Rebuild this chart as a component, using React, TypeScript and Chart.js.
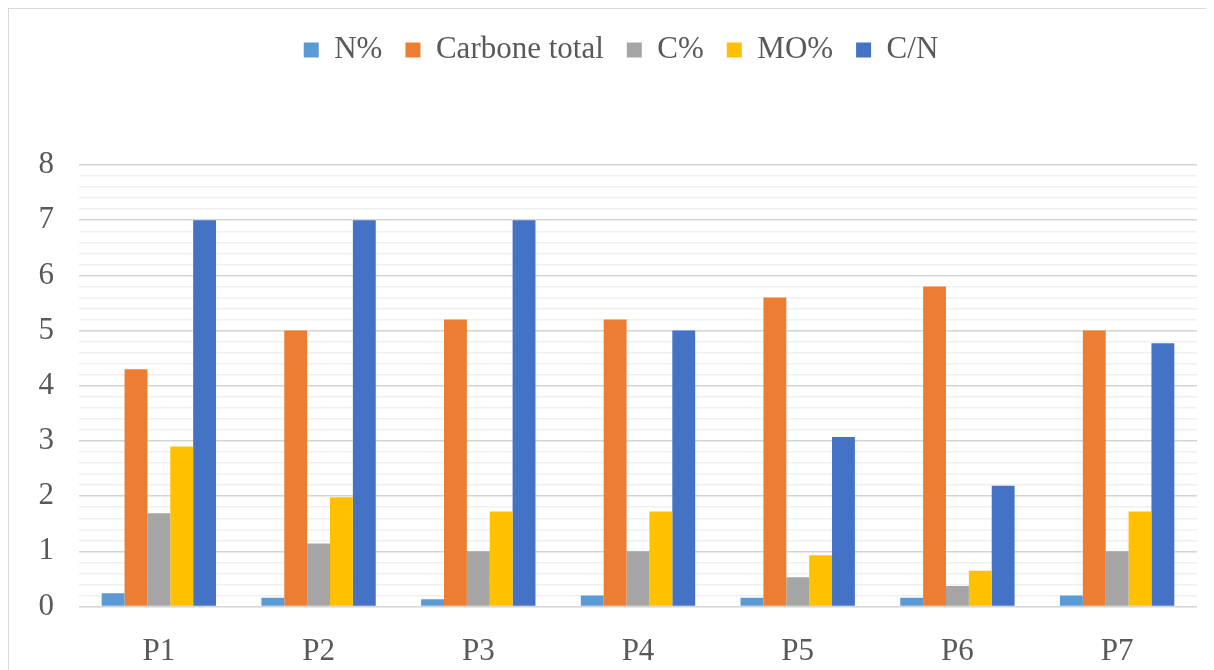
import React, { useEffect, useRef } from "react";
import { Chart, registerables } from "chart.js";

Chart.register(...registerables);

const categories = ["P1", "P2", "P3", "P4", "P5", "P6", "P7"];
const seriesNames = ["N%", "Carbone total", "C%", "MO%", "C/N"];
const nPct = [0.24, 0.16, 0.13, 0.2, 0.16, 0.16, 0.2];
const carboneTotal = [4.3, 5.0, 5.2, 5.2, 5.6, 5.8, 5.0];
const cPct = [1.69, 1.14, 1.0, 1.0, 0.53, 0.37, 1.0];
const moPct = [2.9, 1.98, 1.72, 1.72, 0.93, 0.65, 1.72];
const cN = [7.0, 7.0, 7.0, 5.0, 3.07, 2.19, 4.77];
const seriesColors = ["#5B9BD5", "#ED7D31", "#A5A5A5", "#FFC000", "#4472C4"];
const yMin = 0;
const yMax = 8;
const yStep = 0.2;

const FONT = "'Liberation Serif', 'Times New Roman', serif";
const TEXT = "#595959";

const isMajor = (v: number) => Math.abs(v - Math.round(v)) < 1e-6;

export default function App() {
  const ref = useRef<HTMLCanvasElement | null>(null);

  useEffect(() => {
    document.documentElement.style.overflow = "hidden";
    document.body.style.overflow = "hidden";
    const canvas = ref.current;
    if (!canvas) return;
    const values = [nPct, carboneTotal, cPct, moPct, cN];
    const legendTweak = {
      id: "legendTweak",
      beforeInit(chart: any) {
        const legend = chart.legend;
        if (!legend) return;
        const origFit = legend.fit;
        legend.fit = function () {
          origFit.call(this);
          this.height = 153.5;
        };
        const origDraw = legend.draw;
        legend.draw = function () {
          const ctx = this.ctx;
          ctx.save();
          ctx.translate(18, 0);
          origDraw.call(this);
          ctx.restore();
        };
      },
    };
    const chart = new Chart(canvas, {
      type: "bar",
      data: {
        labels: categories,
        datasets: seriesNames.map((name, i) => ({
          label: name,
          data: values[i],
          backgroundColor: seriesColors[i],
          borderWidth: 0,
          categoryPercentage: 0.716,
          barPercentage: 1,
        })),
      },
      options: {
        responsive: false,
        animation: false,
        layout: { padding: { top: 2.5, right: 18, left: 0, bottom: 0 } },
        plugins: {
          tooltip: { enabled: false },
          legend: {
            position: "top",
            align: "center",
            labels: {
              boxWidth: 15,
              boxHeight: 15,
              padding: 23,
              color: TEXT,
              font: { family: FONT, size: 31 },
            },
          },
        },
        scales: {
          x: {
            grid: { display: false },
            border: { display: false },
            ticks: {
              color: TEXT,
              font: { family: FONT, size: 31 },
              padding: 19,
              maxRotation: 0,
            },
            afterFit(scale: any) {
              scale.height = 67.5;
            },
          },
          y: {
            min: yMin,
            max: yMax,
            border: { display: false },
            grid: {
              drawTicks: false,
              lineWidth: 1.4,
              color: (ctx: any) =>
                ctx.tick && isMajor(ctx.tick.value) ? "#d4d4d4" : "#f0f0f0",
            },
            ticks: {
              stepSize: yStep,
              autoSkip: false,
              padding: 25,
              color: TEXT,
              font: { family: FONT, size: 31 },
              callback: (v: any) => (isMajor(Number(v)) ? String(Math.round(Number(v))) : ""),
            },
            afterFit(scale: any) {
              scale.width = 70;
            },
          },
        },
      },
      plugins: [legendTweak],
    });
    return () => chart.destroy();
  }, []);

  return (
    <div
      style={{
        border: "1px solid #d9d9d9",
        width: 1206,
        height: 665,
        background: "#fff",
        boxSizing: "content-box",
      }}
    >
      <canvas ref={ref} width={1206} height={665} style={{ display: "block", width: 1206, height: 665 }} />
    </div>
  );
}
